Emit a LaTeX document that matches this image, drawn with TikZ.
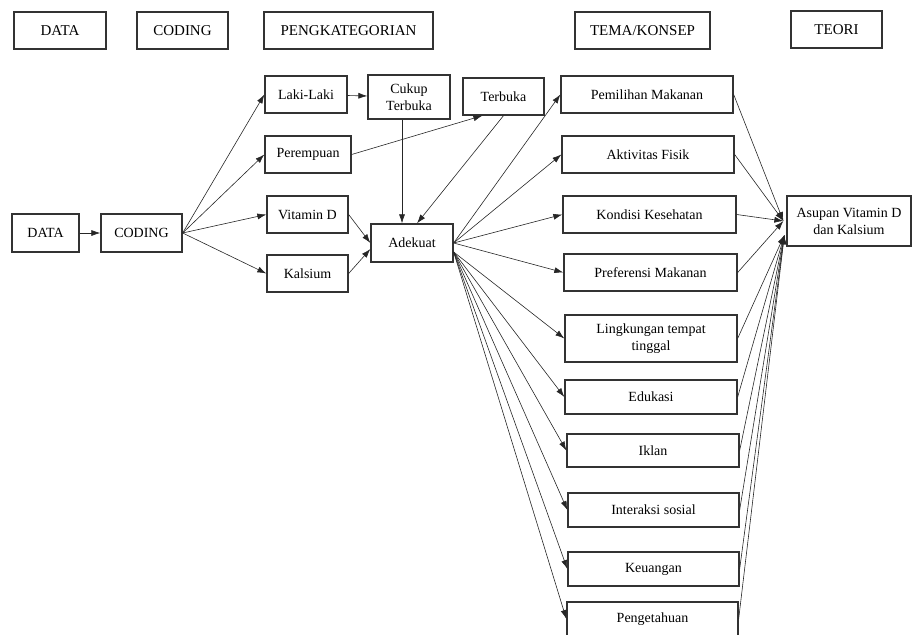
\documentclass[tikz,border=0pt]{standalone}
\usepackage{fontspec}
\setmainfont{Liberation Serif}
\usetikzlibrary{arrows.meta}

\begin{document}
\begin{tikzpicture}[x=1pt,y=-1pt,
    box/.style={draw=black!80,line width=1.3pt,inner sep=1pt,align=center,
      font=\fontsize{14}{17}\selectfont},
    head/.style={box,font=\fontsize{15}{17}\selectfont},
    wh/.style 2 args={minimum width=#1pt,minimum height=#2pt},
    arr/.style={draw=black!85,line width=0.6pt,-{Latex[length=9pt,width=6pt]}}]
    \useasboundingbox (0,0) rectangle (912,634);
    \clip (0,0) rectangle (912,634);

    % header row
    \node[head,wh={92}{37}] (hdata) at (60,30.5) {DATA};
    \node[head,wh={91}{37}] (hcoding) at (182.5,30.5) {CODING};
    \node[head,wh={169}{37}] (hkat) at (348.5,30.5) {PENGKATEGORIAN};
    \node[head,wh={135}{37}] (htema) at (642.5,30.5) {TEMA/KONSEP};
    \node[head,wh={91}{37}] (hteori) at (836.5,29.5) {TEORI};

    % data and coding
    \node[box,wh={67}{38}] (data) at (45.5,233) {DATA};
    \node[box,wh={81}{38}] (coding) at (141.5,233) {CODING};

    % categories
    \node[box,wh={82}{37}] (laki) at (306,94.5) {Laki-Laki};
    \node[box,wh={82}{44}] (cukup) at (409,97) {Cukup\\Terbuka};
    \node[box,wh={86}{37}] (perempuan) at (308,154.5) {Perempuan};
    \node[box,wh={81}{37}] (vitd) at (307.5,214.5) {Vitamin D};
    \node[box,wh={81}{37}] (kalsium) at (307.5,273.5) {Kalsium};
    \node[box,wh={82}{38}] (adekuat) at (412,243) {Adekuat};
    \node[box,wh={81}{37}] (terbuka) at (503.5,96.5) {Terbuka};

    % themes
    \node[box,wh={172}{37}] (pemilihan) at (647,94.5) {Pemilihan Makanan};
    \node[box,wh={172}{37}] (aktivitas) at (648,154.5) {Aktivitas Fisik};
    \node[box,wh={173}{37}] (kondisi) at (649.5,214.5) {Kondisi Kesehatan};
    \node[box,wh={173}{37}] (preferensi) at (650.5,272.5) {Preferensi Makanan};
    \node[box,wh={172}{47}] (lingkungan) at (651,338.5) {Lingkungan tempat\\tinggal};
    \node[box,wh={172}{34}] (edukasi) at (651,397) {Edukasi};
    \node[box,wh={172}{33}] (iklan) at (653,450.5) {Iklan};
    \node[box,wh={171}{34}] (interaksi) at (653.5,510) {Interaksi sosial};
    \node[box,wh={171}{34}] (keuangan) at (653.5,569) {Keuangan};
    \node[box,wh={171}{34}] (pengetahuan) at (652.5,619) {Pengetahuan};

    % theory
    \node[box,wh={124}{50}] (asupan) at (849,221) {Asupan Vitamin D\\dan Kalsium};

    % arrows on the left
    \draw[arr] (data) -- (coding);
    \foreach \n in {laki,perempuan,vitd,kalsium}
      \draw[arr] (coding.east) -- (\n.west);
    \draw[arr] (laki) -- (cukup);
    \draw[arr] (perempuan.east) -- ([xshift=20pt]terbuka.south west);
    \draw[arr] ([xshift=-7pt]cukup.south) -- ([xshift=-7pt]cukup.south |- adekuat.north);
    \draw[arr] (terbuka.south) -- ([xshift=5pt]adekuat.north);
    \draw[arr] (vitd.east) -- (adekuat.west);
    \draw[arr] (kalsium.east) -- ([yshift=-6pt]adekuat.west);

    % adekuat to the themes
    \foreach \n in {pemilihan,aktivitas,kondisi,preferensi}
      \draw[arr] (adekuat.east) -- (\n.west);
    \foreach \n in {lingkungan,edukasi,iklan,interaksi,keuangan,pengetahuan}
      \draw[arr] ([yshift=-9pt]adekuat.east) -- (\n.west);

    % themes to the theory
    \foreach \n in {pemilihan,aktivitas,kondisi,preferensi}
      \draw[arr] (\n.east) -- ([xshift=-3pt]asupan.west);
    \foreach \n in {lingkungan,edukasi,iklan,interaksi,keuangan,pengetahuan}
      \draw[arr] (\n.east) -- ([xshift=-2pt,yshift=-14pt]asupan.west);

\end{tikzpicture}
\end{document}
